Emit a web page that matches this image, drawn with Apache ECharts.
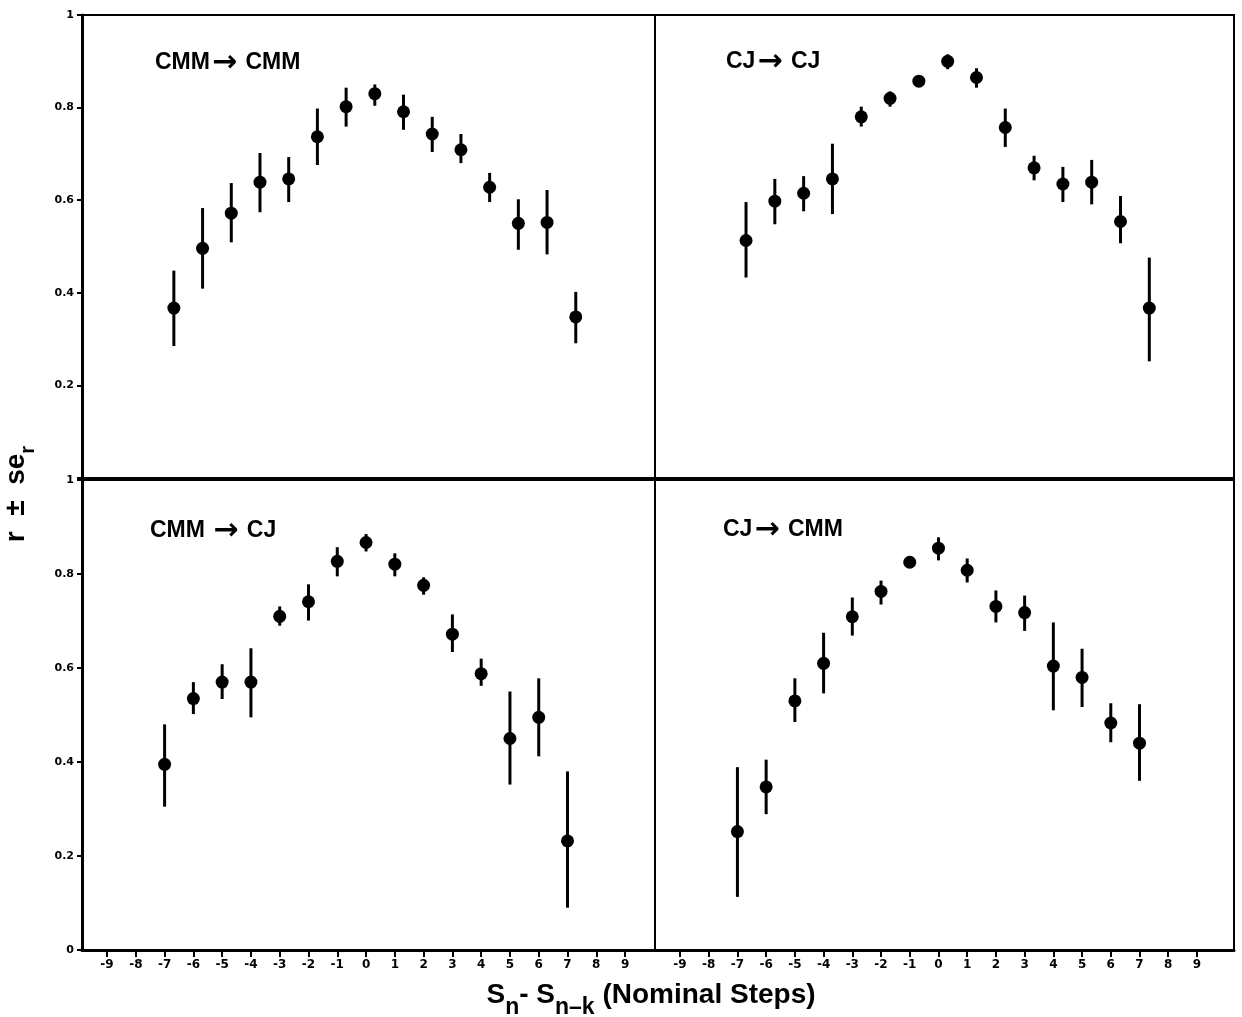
<!DOCTYPE html>
<html>
<head>
<meta charset="utf-8">
<script src="https://cdn.jsdelivr.net/npm/echarts@6/dist/echarts.min.js"></script>
<style>
html, body { margin: 0; padding: 0; background: #fff; }
#main { width: 1242px; height: 1017px; }
</style>
</head>
<body>
<div id="main"></div>
<script>
// nominal step differences
var steps = [-7, -6, -5, -4, -3, -2, -1, 0, 1, 2, 3, 4, 5, 6, 7];
var xTickValues = [-9, -8, -7, -6, -5, -4, -3, -2, -1, 0, 1, 2, 3, 4, 5, 6, 7, 8, 9];

// CMM -> CMM
var cmmCmmMean = [0.367, 0.496, 0.572, 0.639, 0.646, 0.737, 0.802, 0.830, 0.791, 0.743, 0.709, 0.628, 0.550, 0.552, 0.348];
var cmmCmmLow  = [0.285, 0.409, 0.509, 0.574, 0.596, 0.676, 0.759, 0.804, 0.752, 0.704, 0.680, 0.596, 0.493, 0.483, 0.291];
var cmmCmmHigh = [0.448, 0.583, 0.637, 0.702, 0.693, 0.798, 0.843, 0.850, 0.828, 0.780, 0.743, 0.659, 0.602, 0.622, 0.402];

// CJ -> CJ
var cjCjMean = [0.513, 0.598, 0.615, 0.646, 0.780, 0.820, 0.857, 0.900, 0.865, 0.757, 0.670, 0.635, 0.639, 0.554, 0.367];
var cjCjLow  = [0.433, 0.548, 0.576, 0.570, 0.759, 0.802, 0.850, 0.883, 0.843, 0.715, 0.643, 0.596, 0.591, 0.507, 0.252];
var cjCjHigh = [0.596, 0.646, 0.652, 0.722, 0.802, 0.835, 0.864, 0.915, 0.885, 0.798, 0.696, 0.672, 0.687, 0.609, 0.476];

// CMM -> CJ
var cmmCjMean = [0.395, 0.535, 0.570, 0.570, 0.710, 0.741, 0.827, 0.867, 0.821, 0.776, 0.672, 0.588, 0.450, 0.495, 0.232];
var cmmCjLow  = [0.305, 0.502, 0.534, 0.495, 0.690, 0.701, 0.795, 0.848, 0.795, 0.756, 0.634, 0.562, 0.352, 0.412, 0.090];
var cmmCjHigh = [0.480, 0.570, 0.608, 0.642, 0.731, 0.778, 0.857, 0.885, 0.844, 0.793, 0.714, 0.620, 0.550, 0.578, 0.380];

// CJ -> CMM
var cjCmmMean = [0.252, 0.347, 0.530, 0.610, 0.709, 0.763, 0.825, 0.855, 0.808, 0.731, 0.718, 0.604, 0.580, 0.483, 0.440];
var cjCmmLow  = [0.113, 0.289, 0.485, 0.546, 0.669, 0.735, 0.817, 0.829, 0.782, 0.697, 0.679, 0.510, 0.517, 0.442, 0.360];
var cjCmmHigh = [0.389, 0.405, 0.578, 0.675, 0.750, 0.786, 0.833, 0.878, 0.833, 0.765, 0.754, 0.697, 0.641, 0.525, 0.523];

var FONT = '"Liberation Sans", Arial, sans-serif';
var TICKFONT = '"DejaVu Sans", sans-serif';

var panels = [
    {src: 'CMM', dst: ' CMM', mean: cmmCmmMean, low: cmmCmmLow, high: cmmCmmHigh},
    {src: 'CJ', dst: ' CJ', mean: cjCjMean, low: cjCjLow, high: cjCjHigh},
    {src: 'CMM ', dst: ' CJ', mean: cmmCjMean, low: cmmCjLow, high: cmmCjHigh},
    {src: 'CJ', dst: ' CMM', mean: cjCmmMean, low: cjCmmLow, high: cjCmmHigh}
];

var grids = [
    {left: 82, top: 15, width: 573, height: 463},
    {left: 655, top: 15, width: 579, height: 463},
    {left: 82, top: 480, width: 573, height: 470},
    {left: 655, top: 480, width: 579, height: 470}
];
// the scan is slightly skewed: top panels sit a little to the right
var xRanges = [[-10.2, 9.76], [-10.16, 9.94], [-9.87, 10.04], [-9.87, 10.29]];
var titlePos = [[155, 63], [726, 62], [150, 531], [723, 530]];

var chart = echarts.init(document.getElementById('main'));

var xAxes = [], yAxes = [], series = [], graphics = [];

grids.forEach(function (g, i) {
    g.show = true;
    g.borderColor = '#000';
    g.borderWidth = 2;
    g.backgroundColor = 'transparent';

    var isBottom = i >= 2;
    var isLeft = i % 2 === 0;

    xAxes.push({
        type: 'value',
        gridIndex: i,
        min: xRanges[i][0],
        max: xRanges[i][1],
        splitLine: {show: false},
        axisLine: {show: true, onZero: false, lineStyle: {color: '#000', width: isBottom ? 3 : 2}},
        axisTick: {
            show: isBottom,
            customValues: xTickValues,
            length: 7,
            lineStyle: {color: '#000', width: 2}
        },
        axisLabel: {
            show: isBottom,
            customValues: xTickValues,
            margin: 9,
            color: '#000',
            fontFamily: TICKFONT,
            fontWeight: 'bold',
            fontSize: 12
        }
    });

    yAxes.push({
        type: 'value',
        gridIndex: i,
        min: 0,
        max: 1,
        interval: 0.2,
        splitLine: {show: false},
        axisLine: {show: true, onZero: false, lineStyle: {color: '#000', width: isLeft ? 3 : 2}},
        axisTick: {show: isLeft, length: 5, lineStyle: {color: '#000', width: 2}},
        axisLabel: {
            show: isLeft,
            margin: 8,
            color: '#000',
            fontFamily: TICKFONT,
            fontWeight: 'bold',
            fontSize: 11,
            formatter: function (v) {
                if (!isBottom && v === 0) return '';
                return String(+v.toFixed(1));
            }
        }
    });

    var p = panels[i];
    var bars = steps.map(function (s, k) { return [s, p.low[k], p.high[k]]; });
    var pts = steps.map(function (s, k) { return [s, p.mean[k]]; });

    series.push({
        type: 'custom',
        xAxisIndex: i,
        yAxisIndex: i,
        data: bars,
        encode: {x: 0, y: [1, 2]},
        renderItem: function (params, api) {
            var a = api.coord([api.value(0), api.value(1)]);
            var b = api.coord([api.value(0), api.value(2)]);
            return {
                type: 'line',
                shape: {x1: a[0], y1: a[1], x2: b[0], y2: b[1]},
                style: {stroke: '#000', lineWidth: 3}
            };
        },
        z: 2
    });
    series.push({
        type: 'scatter',
        xAxisIndex: i,
        yAxisIndex: i,
        data: pts,
        symbol: 'circle',
        symbolSize: 13,
        itemStyle: {color: '#000', opacity: 1},
        z: 3
    });

    graphics.push({
        type: 'text',
        x: titlePos[i][0],
        y: titlePos[i][1],
        style: {
            text: '{t|' + p.src + '}{ar|\u2192}{t|' + p.dst + '}',
            align: 'left',
            verticalAlign: 'middle',
            textAlign: 'left',
            textVerticalAlign: 'middle',
            fill: '#000',
            rich: {
                t: {fontFamily: FONT, fontWeight: 'bold', fontSize: 23, lineHeight: 26, verticalAlign: 'middle', fill: '#000'},
                ar: {fontFamily: '"DejaVu Sans"', fontWeight: 'bold', fontSize: 30, lineHeight: 26, verticalAlign: 'middle', fill: '#000', padding: [0, 2, 0, 2]}
            }
        }
    });
});

// axis titles
graphics.push({
    type: 'text',
    x: 651,
    y: 1000,
    style: {
        text: '{a|S}{s|n}{a|- S}{s|n\u2013k}{a| (Nominal Steps)}',
        align: 'center',
        verticalAlign: 'middle',
        textAlign: 'center',
        textVerticalAlign: 'middle',
        fill: '#000',
        rich: {
            a: {fontFamily: FONT, fontWeight: 'bold', fontSize: 28, lineHeight: 30, verticalAlign: 'top', fill: '#000'},
            s: {fontFamily: FONT, fontWeight: 'bold', fontSize: 23, lineHeight: 38, verticalAlign: 'bottom', fill: '#000'}
        }
    }
});
graphics.push({
    type: 'text',
    x: 20,
    y: 494,
    rotation: Math.PI / 2,
    style: {
        text: '{a|r  \u00b1  se}{s|r}',
        align: 'center',
        verticalAlign: 'middle',
        textAlign: 'center',
        textVerticalAlign: 'middle',
        fill: '#000',
        rich: {
            a: {fontFamily: FONT, fontWeight: 'bold', fontSize: 28, lineHeight: 30, verticalAlign: 'top', fill: '#000'},
            s: {fontFamily: FONT, fontWeight: 'bold', fontSize: 20, lineHeight: 36, verticalAlign: 'bottom', fill: '#000'}
        }
    }
});

var option = {
    animation: false,
    backgroundColor: '#fff',
    grid: grids,
    xAxis: xAxes,
    yAxis: yAxes,
    series: series,
    graphic: graphics
};

option && chart.setOption(option);
</script>
</body>
</html>
